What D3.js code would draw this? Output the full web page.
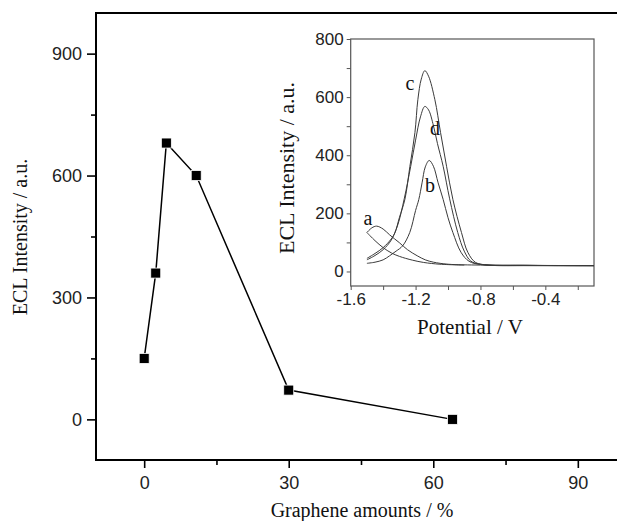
<!DOCTYPE html>
<html>
<head>
<meta charset="utf-8">
<script src="https://cdn.jsdelivr.net/npm/d3@7"></script>
<style>
  body { margin: 0; background: #fff; }
  svg { display: block; }
  .tick text { font-family: "Liberation Sans", Arial, sans-serif; }
  .title { font-family: "Liberation Serif", "Times New Roman", serif; fill: #111; }
</style>
</head>
<body>
<div id="chart"></div>
<script>
// main plot: ECL intensity vs graphene amount
const grapheneAmounts = [0, 2.4, 4.6, 10.8, 30, 64];
const eclIntensity = [150, 360, 680, 600, 72, 0];
const mainXTicks = [0, 30, 60, 90];
const mainYTicks = [0, 300, 600, 900];

// inset: ECL-potential curves, [potential, intensity]
const curveA = [[-1.50, 134], [-1.47, 150], [-1.44, 156], [-1.40, 146], [-1.36, 126], [-1.30, 99], [-1.25, 75], [-1.19, 54], [-1.14, 40], [-1.09, 32], [-1.00, 25], [-0.80, 22], [-0.50, 21], [-0.10, 20]];
const curveAReturn = [[-1.50, 134], [-1.45, 106], [-1.40, 82], [-1.35, 64], [-1.30, 52], [-1.22, 39], [-1.15, 31], [-1.05, 25], [-0.90, 22]];
const curveB = [[-1.50, 28], [-1.45, 32], [-1.40, 40], [-1.36, 54], [-1.32, 70], [-1.28, 88], [-1.236, 134], [-1.20, 210], [-1.18, 248], [-1.16, 305], [-1.14, 360], [-1.116, 382], [-1.09, 362], [-1.061, 305], [-1.03, 248], [-1.00, 185], [-0.97, 134], [-0.92, 66], [-0.87, 35], [-0.80, 24], [-0.50, 21], [-0.10, 20]];
const curveC = [[-1.50, 45], [-1.45, 62], [-1.40, 82], [-1.35, 112], [-1.327, 134], [-1.30, 185], [-1.266, 248], [-1.235, 362], [-1.204, 478], [-1.186, 591], [-1.165, 662], [-1.143, 691], [-1.12, 672], [-1.081, 591], [-1.046, 478], [-1.009, 362], [-0.97, 248], [-0.917, 134], [-0.878, 66], [-0.83, 31], [-0.75, 22], [-0.50, 20], [-0.10, 20]];
const curveD = [[-1.50, 40], [-1.45, 55], [-1.40, 75], [-1.35, 108], [-1.31, 160], [-1.27, 250], [-1.23, 362], [-1.20, 452], [-1.17, 532], [-1.143, 568], [-1.12, 556], [-1.09, 502], [-1.065, 440], [-1.03, 362], [-0.99, 250], [-0.94, 134], [-0.90, 70], [-0.86, 36], [-0.80, 25], [-0.50, 21], [-0.10, 20]];
const curveLabels = ['a', 'b', 'c', 'd'];
const labelPoints = [[-1.493, 160], [-1.111, 274], [-1.234, 625], [-1.08, 470]];
const insetXTicks = [-1.6, -1.2, -0.8, -0.4];
const insetYTicks = [0, 200, 400, 600, 800];

const W = 617, H = 521;
const svg = d3.select('#chart').append('svg').attr('width', W).attr('height', H);

// ---- main axes
const x = d3.scaleLinear().domain([-10, 100]).range([96, 626]);
const y = d3.scaleLinear().domain([-100, 1000]).range([460, 13]);

svg.append('rect')
  .attr('x', x.range()[0]).attr('y', y.range()[1])
  .attr('width', x.range()[1] - x.range()[0])
  .attr('height', y.range()[0] - y.range()[1])
  .attr('fill', 'none').attr('stroke', '#000').attr('stroke-width', 2);

// minor ticks first, then major with labels
svg.append('g')
  .attr('transform', 'translate(0,' + y.range()[0] + ')')
  .call(d3.axisBottom(x).tickValues([15, 45, 75]).tickSize(5).tickFormat(''))
  .call(g => g.select('.domain').remove())
  .selectAll('line').attr('stroke-width', 1.6);

svg.append('g')
  .attr('transform', 'translate(0,' + y.range()[0] + ')')
  .call(d3.axisBottom(x).tickValues(mainXTicks).tickSize(8).tickPadding(8))
  .call(g => g.select('.domain').remove())
  .call(g => g.selectAll('line').attr('stroke-width', 1.6))
  .selectAll('text').attr('font-size', 18).attr('fill', '#222');

svg.append('g')
  .attr('transform', 'translate(' + x.range()[0] + ',0)')
  .call(d3.axisLeft(y).tickValues([150, 450, 750]).tickSize(5).tickFormat(''))
  .call(g => g.select('.domain').remove())
  .selectAll('line').attr('stroke-width', 1.6);

svg.append('g')
  .attr('transform', 'translate(' + x.range()[0] + ',0)')
  .call(d3.axisLeft(y).tickValues(mainYTicks).tickSize(9).tickPadding(5))
  .call(g => g.select('.domain').remove())
  .call(g => g.selectAll('line').attr('stroke-width', 1.6))
  .selectAll('text').attr('font-size', 18).attr('fill', '#222');

const pts = grapheneAmounts.map((g, i) => [g, eclIntensity[i]]);

svg.append('path')
  .datum(pts)
  .attr('fill', 'none').attr('stroke', '#000').attr('stroke-width', 1.5)
  .attr('d', d3.line().x(d => x(d[0])).y(d => y(d[1])));

svg.selectAll('.marker')
  .data(pts)
  .enter()
  .append('rect')
  .attr('class', 'marker')
  .attr('x', d => x(d[0]) - 5).attr('y', d => y(d[1]) - 5)
  .attr('width', 10).attr('height', 10)
  .attr('fill', '#000').attr('stroke', '#fff').attr('stroke-width', 0.8);

svg.append('text').attr('class', 'title')
  .attr('x', 362).attr('y', 517)
  .attr('text-anchor', 'middle').attr('font-size', 20)
  .text('Graphene amounts / %');

svg.append('text').attr('class', 'title')
  .attr('transform', 'translate(27,237) rotate(-90)')
  .attr('text-anchor', 'middle').attr('font-size', 20)
  .text('ECL Intensity / a.u.');

// ---- inset
const ix = d3.scaleLinear().domain([-1.6, -0.1]).range([350.7, 594]);
const iy = d3.scaleLinear().domain([-50, 800]).range([286, 39]);
const grey = '#555';

svg.append('rect')
  .attr('x', ix.range()[0]).attr('y', iy.range()[1])
  .attr('width', ix.range()[1] - ix.range()[0])
  .attr('height', iy.range()[0] - iy.range()[1])
  .attr('fill', 'none').attr('stroke', grey).attr('stroke-width', 1.2);

svg.append('g')
  .attr('transform', 'translate(0,' + iy.range()[0] + ')')
  .call(d3.axisBottom(ix).tickValues([-1.4, -1.0, -0.6, -0.2]).tickSize(4).tickFormat(''))
  .call(g => g.select('.domain').remove())
  .selectAll('line').attr('stroke', grey);

svg.append('g')
  .attr('transform', 'translate(0,' + iy.range()[0] + ')')
  .call(d3.axisBottom(ix).tickValues(insetXTicks).tickSize(4).tickPadding(3))
  .call(g => g.select('.domain').remove())
  .call(g => g.selectAll('line').attr('stroke', grey))
  .selectAll('text').attr('font-size', 17).attr('fill', '#222')
  .text(d => d3.format('.1f')(d).replace('−', '-'));

svg.append('g')
  .attr('transform', 'translate(' + ix.range()[0] + ',0)')
  .call(d3.axisLeft(iy).tickValues([100, 300, 500, 700]).tickSize(4).tickFormat(''))
  .call(g => g.select('.domain').remove())
  .selectAll('line').attr('stroke', grey);

svg.append('g')
  .attr('transform', 'translate(' + ix.range()[0] + ',0)')
  .call(d3.axisLeft(iy).tickValues(insetYTicks).tickSize(4).tickPadding(3))
  .call(g => g.select('.domain').remove())
  .call(g => g.selectAll('line').attr('stroke', grey))
  .selectAll('text').attr('font-size', 17).attr('fill', '#222');

const insetLine = d3.line()
  .x(d => ix(d[0])).y(d => iy(d[1]))
  .curve(d3.curveCatmullRom);

svg.selectAll('.ecl-curve')
  .data([curveA, curveAReturn, curveB, curveC, curveD])
  .enter()
  .append('path')
  .attr('class', 'ecl-curve')
  .attr('fill', 'none').attr('stroke', '#3a3a3a').attr('stroke-width', 1)
  .attr('d', insetLine);

svg.selectAll('.curve-label')
  .data(curveLabels)
  .enter()
  .append('text')
  .attr('class', 'title curve-label')
  .attr('x', (d, i) => ix(labelPoints[i][0]))
  .attr('y', (d, i) => iy(labelPoints[i][1]))
  .attr('text-anchor', 'middle').attr('font-size', 20)
  .text(d => d);

svg.append('text').attr('class', 'title')
  .attr('x', 470).attr('y', 334)
  .attr('text-anchor', 'middle').attr('font-size', 21)
  .text('Potential / V');

svg.append('text').attr('class', 'title')
  .attr('transform', 'translate(294,168) rotate(-90)')
  .attr('text-anchor', 'middle').attr('font-size', 22)
  .text('ECL Intensity / a.u.');
</script>
</body>
</html>
